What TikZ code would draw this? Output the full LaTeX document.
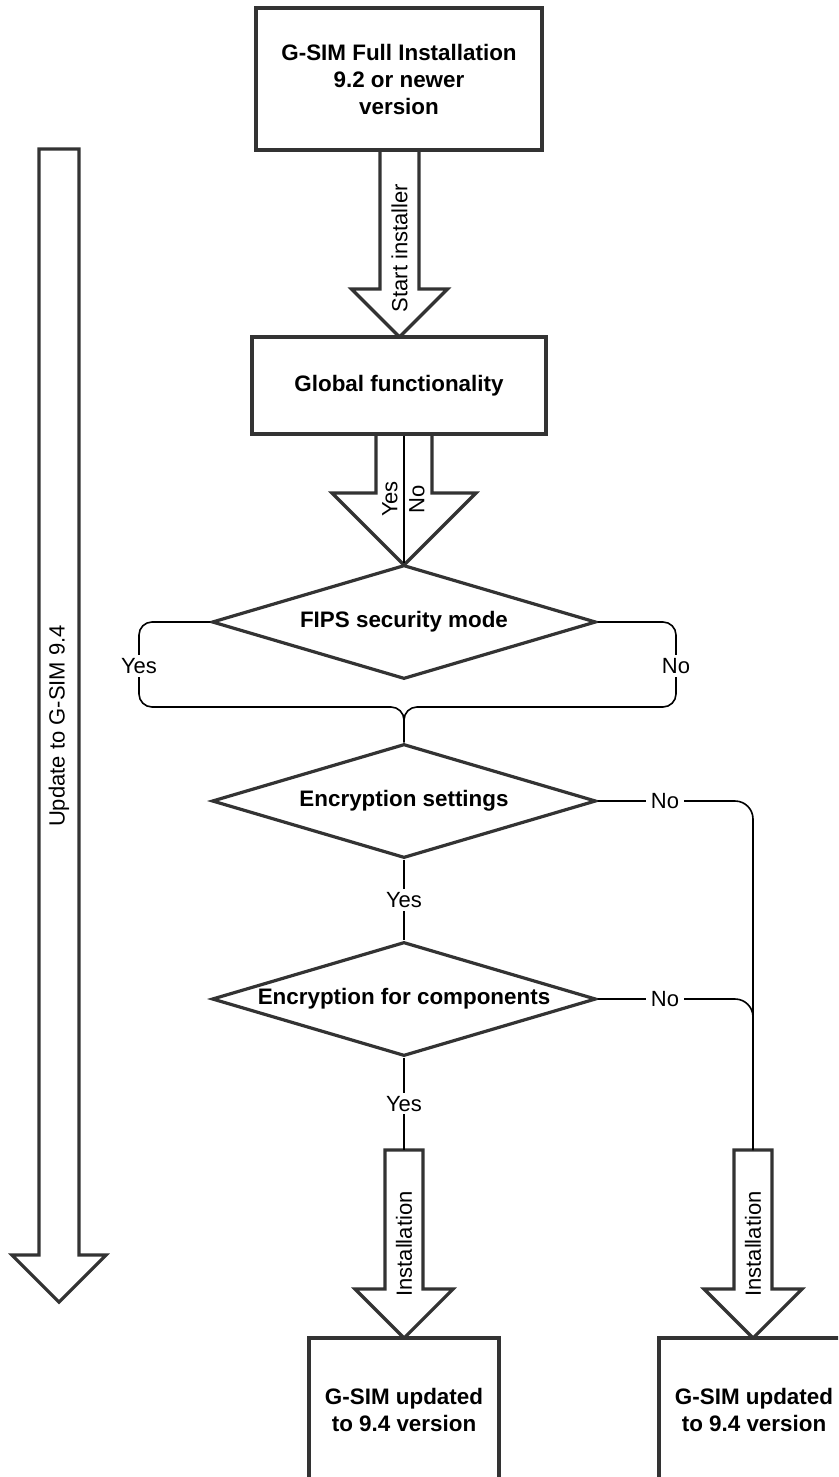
\documentclass[tikz,border=0pt]{standalone}
\usepackage{fontspec}
\setmainfont{Liberation Sans}
\usetikzlibrary{shapes.geometric,calc}
\definecolor{edgegray}{HTML}{333333}
\tikzset{
  shapeline/.style={draw=edgegray, line width=3.2pt, line join=miter, fill=white},
  box/.style={shapeline, align=center, inner sep=0pt,
    font=\bfseries\fontsize{22.4}{27}\selectfont},
  dia/.style={shapeline, diamond, inner sep=0pt, aspect=3.37,
    minimum width=384pt, minimum height=114pt,
    font=\bfseries\fontsize{22.4}{27}\selectfont},
  conn/.style={draw=black, line width=1.6pt},
  lbl/.style={font=\fontsize{22}{26}\selectfont, inner xsep=5pt, inner ysep=3pt},
  lblw/.style={lbl, fill=white},
}
% block arrow: x, ytop, ytip, shaft half width, head half width (45 degree head)
\newcommand{\blockarrow}[5]{%
  \draw[shapeline] (#1-#4,#2) -- (#1-#4,#3-#5) -- (#1-#5,#3-#5) -- (#1,#3)
    -- (#1+#5,#3-#5) -- (#1+#4,#3-#5) -- (#1+#4,#2) -- cycle;}
\begin{document}
\begin{tikzpicture}[x=1pt,y=-1pt]
\useasboundingbox (0,0) rectangle (838,1477);
\clip (0,0) rectangle (838,1477);

% block arrows (drawn first so boxes sit on top)
\blockarrow{399.5}{150}{337}{19.5}{48}
\blockarrow{404}{434}{565}{28}{72}
\blockarrow{404}{1150}{1338}{19}{49}
\blockarrow{753}{1150}{1338}{19}{49}
\blockarrow{59}{149}{1302}{20}{47}

% boxes and decisions
\node[box, minimum width=286pt, minimum height=142pt] (top) at (399,79)
  {G-SIM Full Installation\\9.2 or newer\\version};
\node[box, minimum width=294pt, minimum height=97pt] (glob) at (399,385.5)
  {Global functionality};
\node[dia] (fips) at (404,622) {FIPS security mode};
\node[dia] (encs) at (404,801) {Encryption settings};
\node[dia] (encc) at (404,999) {Encryption for components};
\node[box, minimum width=190pt, minimum height=144pt] (res1) at (404,1410)
  {G-SIM updated\\to 9.4 version};
\node[box, minimum width=190pt, minimum height=144pt] (res2) at (754,1410)
  {G-SIM updated\\to 9.4 version};

% arrow labels
\node[lbl, rotate=90] (startlbl) at (399.5,248) {Start installer};
\node[lbl, rotate=90] (yes0) at (390,499) {Yes};
\node[lbl, rotate=90] (no0) at (417,499) {No};
\node[lbl, rotate=90] (inst1) at (404,1244) {Installation};
\node[lbl, rotate=90] (inst2) at (753,1244) {Installation};
\node[lbl, rotate=90] (updlbl) at (59,726) {Update to G-SIM 9.4};

% coordinates
\coordinate (lc) at (139,707);
\coordinate (rc) at (676,707);
\coordinate (ltop) at (404,1150);
\coordinate (rtop) at (753,1150);

% connectors
\draw[conn] (glob.south -| fips.north) -- (fips.north);
\draw[conn, rounded corners=13pt] (fips.west) -| (lc) -| (encs.north);
\draw[conn, rounded corners=13pt] (fips.east) -| (rc) -| (encs.north);
\node[lblw] (fyes) at (139,666) {Yes};
\node[lblw] (fno) at (676,666) {No};

\draw[conn] (encs.south) -- node[lblw] (eyes) {Yes} (encc.north);
\draw[conn] (encc.south) -- node[lblw] (cyes) {Yes} (ltop);
\draw[conn, rounded corners=18pt] (encs.east) -| (rtop);
\draw[conn, rounded corners=18pt] (encc.east) -| (rtop);
\node[lblw] (eno) at (665,801) {No};
\node[lblw] (cno) at (665,999) {No};
\end{tikzpicture}
\end{document}
